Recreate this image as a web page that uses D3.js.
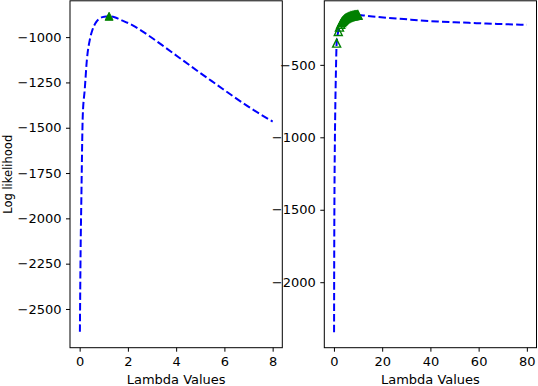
<!DOCTYPE html>
<html>
<head>
<meta charset="utf-8">
<script src="https://cdn.jsdelivr.net/npm/d3@7"></script>
<style>
	body { margin: 0; background: #fff; }
	svg { display: block; font-family: "DejaVu Sans", sans-serif; }
</style>
</head>
<body>
<script>
//	left panel: log likelihood over lambda 0..8
var lambdaLeft = [0.01, 0.04, 0.07, 0.13, 0.21, 0.3, 0.42, 0.53, 0.69, 0.86, 1.02, 1.22, 1.45, 1.66, 2.2, 2.9, 3.6, 4.3, 5.0, 5.7, 6.4, 7.1, 8.0];
var llLeft = [-2626, -2174, -1898, -1430, -1291, -1125, -1015, -960, -916, -894, -887, -885, -890, -902, -935, -995, -1062, -1130, -1198, -1264, -1330, -1393, -1466];
var bestLeft = [1.22];
var bestLeftLL = [-885];

//	right panel: log likelihood over lambda 0..80, plus the ascent steps
var lambdaRight = [0.05, 0.08, 0.13, 0.2, 0.3, 0.4, 0.6, 0.8, 1.12, 1.79, 2.8, 4, 6, 8, 10, 12, 15, 22, 29, 36, 43, 50, 56, 63, 70, 80];
var llRight = [-2345, -2050, -1720, -1430, -1180, -1010, -750, -565, -350, -270, -220, -192, -170, -160, -157, -159, -164, -175, -184, -194, -201, -206, -210, -215, -219, -224];
var stepsRight = [1.12, 1.79, 2.3, 2.8, 3.2, 3.6, 4.0, 4.4, 4.8, 5.2, 5.6, 6.0, 6.4, 6.7, 7.0, 7.3, 7.6, 7.9, 8.2, 8.4, 8.6, 8.8, 9.0, 9.2, 9.4, 9.6, 9.8, 10.0];
var stepsRightLL = [-350, -270, -240, -220, -208, -199, -192, -186, -181, -177, -173, -170, -168, -166, -164, -163, -162, -161, -160, -159.5, -159, -158.5, -158, -157.8, -157.5, -157.3, -157.1, -157];

//	tick labels
var xTicksLeft = [0, 2, 4, 6, 8];
var yTicksLeft = [-1000, -1250, -1500, -1750, -2000, -2250, -2500];
var xTicksRight = [0, 20, 40, 60, 80];
var yTicksRight = [-500, -1000, -1500, -2000];

var xLabel = "Lambda Values";
var yLabel = "Log likelihood";

var W = 538, H = 386;
var svg = d3.select("body").append("svg").attr("width", W).attr("height", H);

function fmt(d) {
	return (d < 0 ? "\u2212" : "") + Math.abs(d);
}

function drawPanel(p) {
	var x = d3.scaleLinear().domain(p.xDomain).range([p.left, p.right]);
	var y = d3.scaleLinear().domain(p.yDomain).range([p.bottom, p.top]);
	var g = svg.append("g");

	var clip = "clip" + p.id;
	g.append("clipPath").attr("id", clip).append("rect")
		.attr("x", p.left).attr("y", p.top).attr("width", p.right - p.left).attr("height", p.bottom - p.top);

	var pts = p.lambdas.map(function(l, i){ return [l, p.ll[i]]; });
	var line = d3.line().x(function(d){ return x(d[0]); }).y(function(d){ return y(d[1]); }).curve(d3.curveMonotoneX);

	g.append("path").attr("d", line(pts)).attr("clip-path", "url(#" + clip + ")")
		.attr("fill", "none").attr("stroke", "#0000ff").attr("stroke-width", 2)
		.attr("stroke-dasharray", "7.4,3.2");

	//	triangle markers, matplotlib '^'
	var h = 4;
	var tri = "M0," + (-h) + "L" + h + "," + h + "L" + (-h) + "," + h + "Z";
	g.selectAll("path.mark").data(p.marks.map(function(l, i){ return [l, p.marksLL[i]]; }))
		.enter().append("path").attr("class", "mark")
		.attr("d", tri)
		.attr("transform", function(d){ return "translate(" + x(d[0]) + "," + y(d[1]) + ")"; })
		.attr("fill", p.markFill).attr("stroke", "#008000").attr("stroke-width", p.markStroke);

	var ax = g.append("g").attr("transform", "translate(0," + p.bottom + ")")
		.call(d3.axisBottom(x).tickValues(p.xTicks).tickFormat(fmt).tickSize(4).tickPadding(5));
	var ay = g.append("g").attr("transform", "translate(" + p.left + ",0)")
		.call(d3.axisLeft(y).tickValues(p.yTicks).tickFormat(fmt).tickSize(4).tickPadding(4.5));
	[ax, ay].forEach(function(a){
		a.select(".domain").remove();
		a.selectAll("line").attr("stroke", "#000").attr("stroke-width", 1);
		a.selectAll("text").attr("font-size", 13).attr("fill", "#000").attr("font-family", "DejaVu Sans");
	});

	//	spines
	g.append("rect").attr("x", p.left).attr("y", p.top)
		.attr("width", p.right - p.left).attr("height", p.bottom - p.top)
		.attr("fill", "none").attr("stroke", "#000").attr("stroke-width", 1);

	g.append("text").text(xLabel)
		.attr("x", (p.left + p.right) / 2).attr("y", 383.5)
		.attr("text-anchor", "middle").attr("font-size", 13);

	return g;
}

drawPanel({
	id: "L", left: 70, right: 282.3, top: 0.8, bottom: 347.7,
	xDomain: [-0.4, 8.4], yDomain: [-2713.7, -799.6],
	lambdas: lambdaLeft, ll: llLeft, marks: bestLeft, marksLL: bestLeftLL,
	markFill: "#008000", markStroke: 1,
	xTicks: xTicksLeft, yTicks: yTicksLeft
});

drawPanel({
	id: "R", left: 324.3, right: 536.5, top: 0.8, bottom: 347.7,
	xDomain: [-4, 84], yDomain: [-2452, -58],
	lambdas: lambdaRight, ll: llRight, marks: stepsRight, marksLL: stepsRightLL,
	markFill: "none", markStroke: 1.4,
	xTicks: xTicksRight, yTicks: yTicksRight
});

svg.append("text").text(yLabel)
	.attr("transform", "translate(11.7,174.3) rotate(-90)")
	.attr("text-anchor", "middle").attr("font-size", 11.5);
</script>
</body>
</html>
